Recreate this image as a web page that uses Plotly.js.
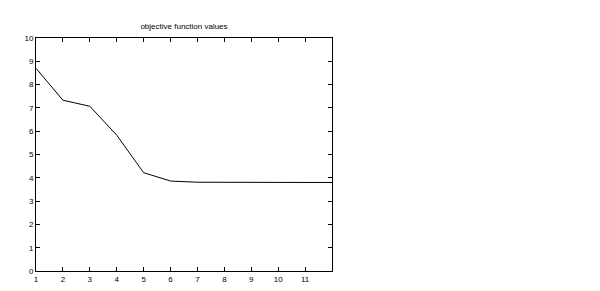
<!DOCTYPE html>
<html><head><meta charset="utf-8">
<script src="https://cdn.plot.ly/plotly-3.0.1.min.js"></script>
<style>html,body{margin:0;padding:0;background:#fff}#c{width:600px;height:291px}</style>
</head><body><div id="c"></div>
<script>
const iterations = [1,2,3,4,5,6,7,8,9,10,11,12];
const objectiveValues = [8.70,7.33,7.07,5.83,4.22,3.86,3.81,3.80,3.80,3.80,3.80,3.80];
const xTickVals = [1,2,3,4,5,6,7,8,9,10,11];
const yTickVals = [0,1,2,3,4,5,6,7,8,9,10];
const titleText = "objective function values";

const axisCommon = {
  showline:true, linecolor:'#000', linewidth:1, mirror:'ticks',
  ticks:'inside', ticklen:4, tickcolor:'#000', tickwidth:1,
  showgrid:false, zeroline:false,
  tickfont:{family:'Liberation Sans, Arial, sans-serif', size:8, color:'#000'}
};
Plotly.newPlot('c', [{
  x: iterations, y: objectiveValues, type:'scatter', mode:'lines',
  line:{color:'#000', width:1}
}], {
  width:600, height:291,
  margin:{l:36, r:268, t:38, b:20},
  paper_bgcolor:'#fff', plot_bgcolor:'#fff',
  showlegend:false,
  title:{text:titleText, x:0.5, xref:'paper', xanchor:'center', y:1, yref:'paper', yanchor:'bottom', pad:{b:9},
    font:{family:'Liberation Sans, Arial, sans-serif', size:8, color:'#000'}},
  xaxis: Object.assign({}, axisCommon, {range:[1,12], tickvals:xTickVals, ticktext:xTickVals.map(String)}),
  yaxis: Object.assign({}, axisCommon, {range:[0,10], tickvals:yTickVals, ticktext:yTickVals.map(String)})
}, {staticPlot:true, displayModeBar:false});
</script></body></html>
